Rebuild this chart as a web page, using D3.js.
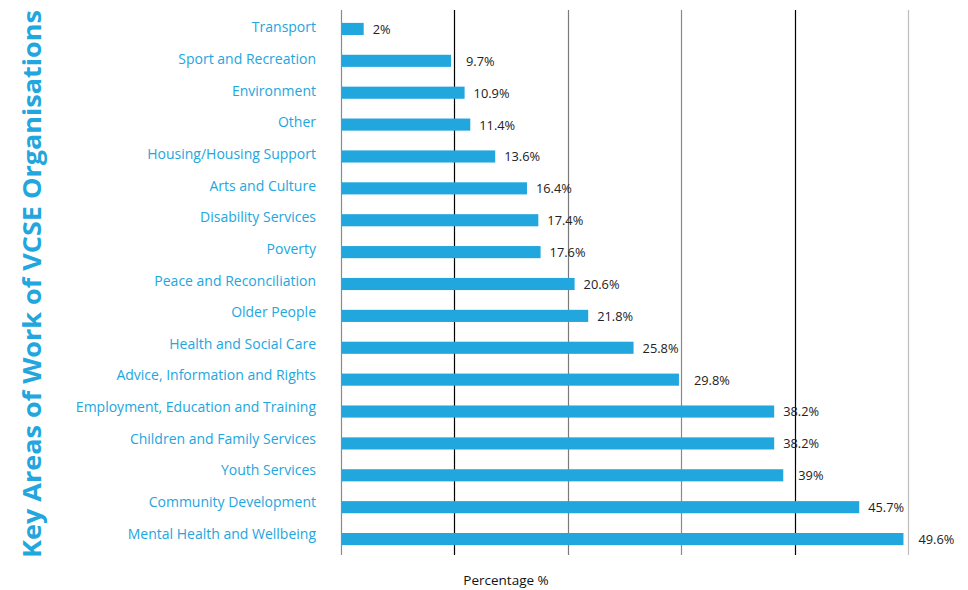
<!DOCTYPE html>
<html>
<head>
<meta charset="utf-8">
<script src="https://cdn.jsdelivr.net/npm/d3@7"></script>
<style>
  html, body { margin: 0; padding: 0; background: #fff; }
  svg { display: block; font-family: "Open Sans", "Noto Sans", sans-serif; }
</style>
</head>
<body>
<svg id="chart" width="968" height="590"></svg>
<script>
// Key areas of work, top to bottom
const categories = [
  "Transport", "Sport and Recreation", "Environment", "Other",
  "Housing/Housing Support", "Arts and Culture", "Disability Services",
  "Poverty", "Peace and Reconciliation", "Older People",
  "Health and Social Care", "Advice, Information and Rights",
  "Employment, Education and Training", "Children and Family Services",
  "Youth Services", "Community Development", "Mental Health and Wellbeing"
];
const values = [2, 9.7, 10.9, 11.4, 13.6, 16.4, 17.4, 17.6, 20.6, 21.8,
                25.8, 29.8, 38.2, 38.2, 39, 45.7, 49.6];
const gridTicks = [0, 10, 20, 30, 40, 50];
const gridColors = ["#8a8a8a", "#000000", "#7a7a7a", "#8a8a8a", "#000000", "#bdbdbd"];

const svg = d3.select("#chart");
const blue = "#22a6de";

const x = d3.scaleLinear().domain([0, 50]).range([341, 908]);
const y = d3.scaleBand().domain(categories).range([13, 555]).paddingInner(0.62).paddingOuter(0.31);
// category label rows sit on a slightly tighter pitch than the bars
const yLabel = d3.scalePoint().domain(categories).range([28.5, 535]);

// vertical gridlines
svg.append("g").selectAll("line").data(gridTicks).join("line")
  .attr("x1", d => Math.round(x(d)) + 0.5).attr("x2", d => Math.round(x(d)) + 0.5)
  .attr("y1", 10).attr("y2", 555)
  .attr("stroke", (d, i) => gridColors[i]).attr("stroke-width", 1.2);

// bars
svg.append("g").selectAll("rect").data(values).join("rect")
  .attr("x", x(0) + 1)
  .attr("y", (d, i) => y(categories[i]))
  .attr("width", d => x(d) - x(0) - 1)
  .attr("height", y.bandwidth())
  .attr("fill", blue);

// value labels, nudged clear of a gridline that sits just past the bar end
function labelX(d) {
  const end = x(d);
  const nearGrid = gridTicks.some(t => x(t) > end && x(t) - end < 13);
  return end + (nearGrid ? 15 : 9);
}
svg.append("g").selectAll("text").data(values).join("text")
  .attr("x", labelX)
  .attr("y", (d, i) => y(categories[i]) + y.bandwidth() / 2 + 1.5)
  .attr("dominant-baseline", "middle")
  .attr("font-size", 12.8)
  .attr("fill", "#222")
  .text(d => d + "%");

// category labels
svg.append("g").selectAll("text").data(categories).join("text")
  .attr("x", 316)
  .attr("y", d => yLabel(d))
  .attr("text-anchor", "end")
  .attr("dominant-baseline", "middle")
  .attr("font-size", 14)
  .attr("fill", blue)
  .text(d => d);

// axis titles
svg.append("text")
  .attr("transform", "translate(34,284) rotate(-90)")
  .attr("text-anchor", "middle")
  .attr("dominant-baseline", "middle")
  .attr("font-size", 25)
  .attr("font-weight", 700)
  .attr("fill", blue)
  .attr("textLength", 548)
  .attr("lengthAdjust", "spacingAndGlyphs")
  .text("Key Areas of Work of VCSE Organisations");

svg.append("text")
  .attr("x", 506).attr("y", 581)
  .attr("text-anchor", "middle")
  .attr("dominant-baseline", "middle")
  .attr("font-size", 13.5)
  .attr("fill", "#111")
  .text("Percentage %");
</script>
</body>
</html>
